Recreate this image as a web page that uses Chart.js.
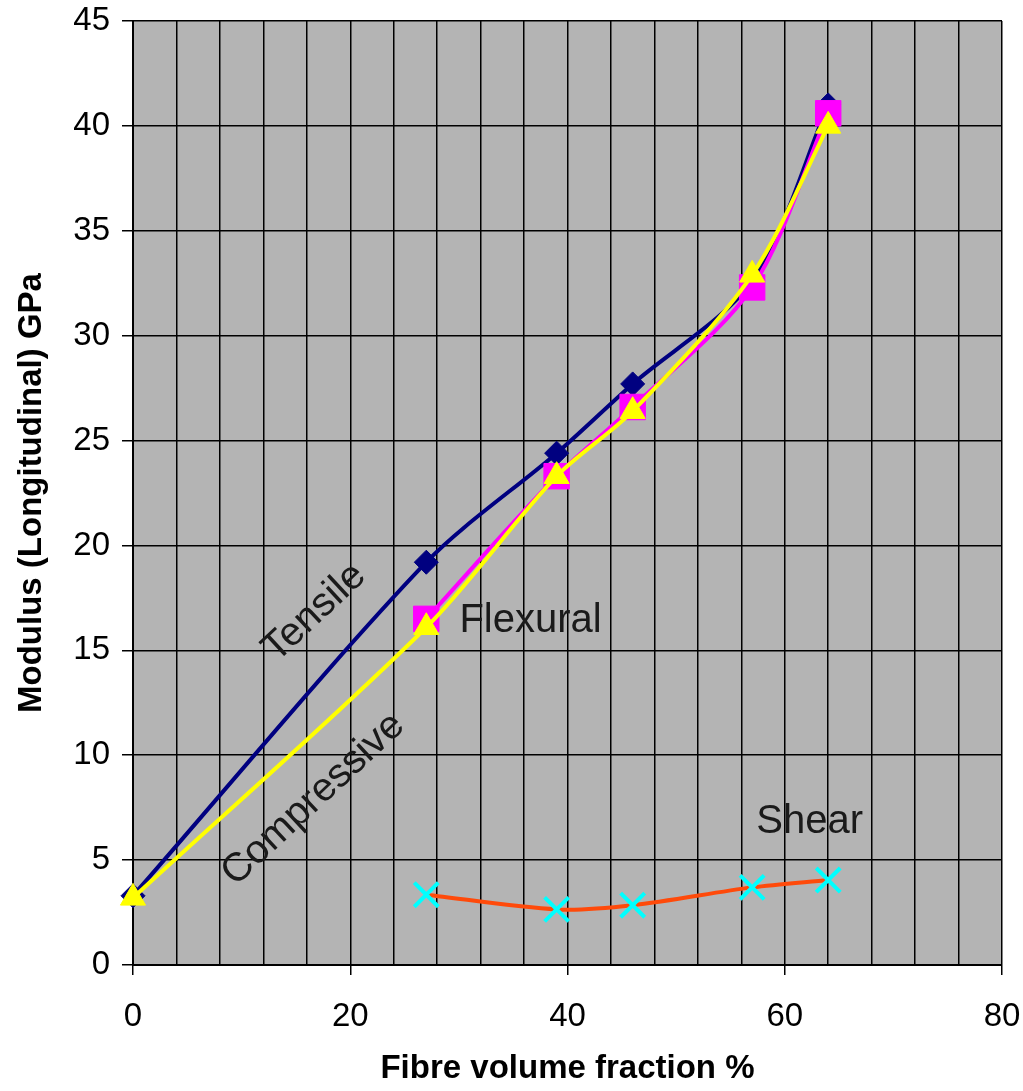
<!DOCTYPE html>
<html>
<head>
<meta charset="utf-8">
<title>Modulus vs fibre volume fraction</title>
<script src="https://cdn.jsdelivr.net/npm/chart.js@4/dist/chart.umd.min.js"></script>
<style>
    html, body { margin: 0; padding: 0; background: #ffffff; }
    #wrap { width: 1023px; height: 1091px; }
</style>
</head>
<body>
<div id="wrap"><canvas id="modulusChart"></canvas></div>
<script>
// Fibre volume fraction (%) for each test set
const fibreFraction = [0, 27, 39, 46, 57, 64];
const compositeFraction = [27, 39, 46, 57, 64];

// Longitudinal modulus, GPa
const tensile = [3.3, 19.2, 24.4, 27.7, 32.6, 41.0];
const flexural = [16.5, 23.3, 26.6, 32.3, 40.6];
const compressive = [3.2, 16.1, 23.3, 26.4, 32.9, 40.0];
const shear = [3.35, 2.65, 2.85, 3.7, 4.05];

// Axis setup
const xMax = 80;
const xGridStep = 4;
const xLabelStep = 20;
const yMax = 45;
const yStep = 5;

// Curve names written next to the lines: [text, x, y, angle in degrees]
const curveLabels = [
    ['Tensile', 16.7, 16.8, -43],
    ['Compressive', 16.6, 7.9, -43],
    ['Flexural', 36.6, 16.4, 0],
    ['Shear', 62.3, 6.8, 0]
];

function toPoints(xs, ys) {
    return xs.map((x, i) => ({ x: x, y: ys[i] }));
}

const labelFont = '40px "Liberation Sans", Arial, sans-serif';

const curveLabelPlugin = {
    id: 'curveLabels',
    afterDatasetsDraw(chart) {
        const ctx = chart.ctx;
        const xs = chart.scales.x;
        const ys = chart.scales.y;
        ctx.save();
        ctx.font = labelFont;
        ctx.fillStyle = '#1a1a1a';
        ctx.textAlign = 'center';
        ctx.textBaseline = 'middle';
        curveLabels.forEach(([text, x, y, angle]) => {
            ctx.save();
            ctx.translate(xs.getPixelForValue(x), ys.getPixelForValue(y));
            ctx.rotate(angle * Math.PI / 180);
            ctx.fillText(text, 0, 0);
            ctx.restore();
        });
        ctx.restore();
    }
};

// Grey plot background
const plotBackground = {
    id: 'plotBackground',
    beforeDraw(chart) {
        const a = chart.chartArea;
        const ctx = chart.ctx;
        ctx.save();
        ctx.fillStyle = '#b4b4b4';
        ctx.fillRect(a.left, a.top, a.right - a.left, a.bottom - a.top);
        ctx.restore();
    }
};

const tickFont = { family: '"Liberation Sans", Arial, sans-serif', size: 33 };
const titleFont = { family: '"Liberation Sans", Arial, sans-serif', size: 33, weight: 'bold' };

new Chart(document.getElementById('modulusChart'), {
    type: 'line',
    data: {
        datasets: [
            {
                label: 'Tensile',
                data: toPoints(fibreFraction, tensile),
                borderColor: '#000080',
                backgroundColor: '#000080',
                borderWidth: 4,
                pointStyle: 'rectRot',
                pointRadius: 12,
                pointBorderWidth: 1,
                tension: 0.3,
                clip: false,
                order: 4
            },
            {
                label: 'Flexural',
                data: toPoints(compositeFraction, flexural),
                borderColor: '#ff00ff',
                backgroundColor: '#ff00ff',
                borderWidth: 4,
                pointStyle: 'rect',
                pointRadius: 18,
                pointBorderWidth: 1,
                tension: 0.3,
                clip: false,
                order: 3
            },
            {
                label: 'Compressive',
                data: toPoints(fibreFraction, compressive),
                borderColor: '#ffff00',
                backgroundColor: '#ffff00',
                borderWidth: 4,
                pointStyle: 'triangle',
                pointRadius: 14.5,
                pointBorderWidth: 1,
                tension: 0.3,
                clip: false,
                order: 2
            },
            {
                label: 'Shear',
                data: toPoints(compositeFraction, shear),
                borderColor: '#ff4a0a',
                backgroundColor: '#00ffff',
                pointBorderColor: '#00ffff',
                borderWidth: 4,
                pointStyle: 'crossRot',
                pointRadius: 17,
                pointBorderWidth: 4,
                tension: 0.3,
                clip: false,
                order: 1
            }
        ]
    },
    options: {
        responsive: true,
        maintainAspectRatio: false,
        animation: false,
        layout: { padding: 0 },
        plugins: {
            legend: { display: false },
            tooltip: { enabled: false }
        },
        scales: {
            x: {
                type: 'linear',
                min: 0,
                max: xMax,
                border: { color: '#000000', width: 2 },
                grid: {
                    color: '#000000',
                    lineWidth: 1.5,
                    tickLength: 10,
                    tickColor: c => (c.tick && c.tick.value % xLabelStep === 0) ? '#000000' : 'rgba(0,0,0,0)'
                },
                ticks: {
                    stepSize: xGridStep,
                    autoSkip: false,
                    maxRotation: 0,
                    color: '#000000',
                    font: tickFont,
                    padding: 22,
                    callback: v => (v % xLabelStep === 0 ? v : '')
                },
                title: {
                    display: true,
                    text: 'Fibre volume fraction %',
                    color: '#000000',
                    font: titleFont,
                    padding: { top: 20, bottom: 2 }
                },
                afterFit: s => {
                    s.height = 126;
                    s.paddingRight = 20;
                }
            },
            y: {
                min: 0,
                max: yMax,
                border: { color: '#000000', width: 2 },
                grid: {
                    color: '#000000',
                    lineWidth: 1.5,
                    tickLength: 11,
                    tickColor: '#000000'
                },
                ticks: {
                    stepSize: yStep,
                    color: '#000000',
                    font: tickFont,
                    padding: 12
                },
                title: {
                    display: true,
                    text: 'Modulus (Longitudinal) GPa',
                    color: '#000000',
                    font: titleFont,
                    padding: { top: 12, bottom: 10 }
                },
                afterFit: s => {
                    s.width = 133;
                    s.paddingTop = 20;
                }
            }
        }
    },
    plugins: [plotBackground, curveLabelPlugin]
});
</script>
</body>
</html>
